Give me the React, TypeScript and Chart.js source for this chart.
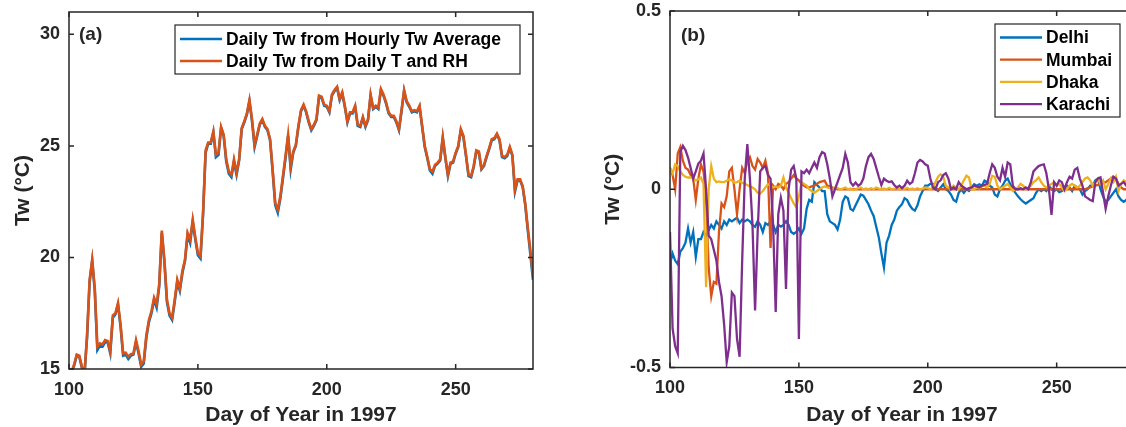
import React, { useEffect, useRef } from "react";
import { Chart, registerables } from "chart.js";

Chart.register(...registerables);

// ---------- data ----------
const START_DAY = 100;
const X_TICKS = [100, 150, 200, 250];
const LEFT_Y_TICKS = [15, 20, 25, 30];
const RIGHT_Y_TICKS = [-0.5, 0, 0.5];

const LEFT_LABELS = ["Daily Tw from Hourly Tw Average", "Daily Tw from Daily T and RH"];
const RIGHT_LABELS = ["Delhi", "Mumbai", "Dhaka", "Karachi"];

// Daily Tw from hourly Tw average (days 100..280)
const TW_HOURLY = [
  14.75, 14.85, 15.15, 15.6, 15.55, 15.05, 14.75, 16.4, 18.9, 19.85,
  18.5, 15.85, 16.05, 16.0, 16.2, 16.2, 15.7, 17.3, 17.45, 17.9,
  16.9, 15.6, 15.65, 15.45, 15.6, 15.65, 16.2, 15.7, 15.1, 15.25,
  16.4, 17.1, 17.5, 18.1, 17.75, 18.7, 21.1, 19.8, 18.0, 17.4,
  17.2, 18.0, 18.9, 18.5, 19.3, 19.85, 21.0, 20.65, 21.6, 20.8,
  20.1, 19.95, 21.9, 24.7, 25.1, 25.1, 25.6, 24.5, 24.6, 25.8,
  25.45, 24.3, 23.75, 23.6, 24.3, 23.7, 24.35, 25.75, 26.05, 26.4,
  27.0, 26.1, 24.95, 25.45, 25.95, 26.15, 25.85, 25.7, 25.25, 23.85,
  22.35, 22.0, 22.65, 23.55, 24.45, 25.45, 23.95, 24.7, 25.0, 25.85,
  26.55, 26.8, 26.5, 26.05, 25.7, 25.9, 26.15, 27.2, 27.15, 26.8,
  26.75, 26.5, 27.25, 27.45, 27.6, 27.05, 27.35, 26.75, 26.05, 26.45,
  26.45, 26.75, 25.9, 25.85, 26.25, 25.85, 26.15, 27.25, 26.65, 26.75,
  26.65, 27.5, 27.25, 26.9, 26.45, 26.3, 26.3, 26.05, 25.7, 26.55,
  27.45, 26.95, 26.75, 26.5, 26.55, 26.5, 26.75, 25.85, 24.95, 24.45,
  23.9, 23.75, 24.1, 24.2, 24.35, 25.35, 24.45, 23.65, 24.2, 24.25,
  24.65, 24.95, 25.7, 25.4, 24.55, 23.65, 23.6, 24.05, 24.75, 24.7,
  23.95, 24.1, 24.5, 24.85, 25.25, 25.3, 25.5, 25.25, 24.5, 24.45,
  24.55, 24.9, 24.55, 22.95, 23.45, 23.45, 23.15, 22.35, 21.2, 20.1,
  19.0,
];

// Daily Tw from daily T and RH (days 100..280)
const TW_DAILY = [
  14.8, 14.9, 15.2, 15.65, 15.6, 15.1, 14.8, 16.5, 19.0, 19.9,
  18.6, 16.0, 16.15, 16.1, 16.3, 16.26, 15.8, 17.4, 17.5, 17.95,
  17.0, 15.7, 15.73, 15.55, 15.67, 15.7, 16.3, 15.8, 15.2, 15.35,
  16.5, 17.2, 17.6, 18.2, 17.9, 18.8, 21.2, 19.9, 18.1, 17.5,
  17.3, 18.1, 19.0, 18.6, 19.4, 19.9, 21.1, 20.8, 21.7, 20.9,
  20.2, 20.05, 22.0, 24.8, 25.15, 25.15, 25.65, 24.6, 24.7, 25.85,
  25.5, 24.4, 23.85, 23.7, 24.4, 23.8, 24.4, 25.8, 26.1, 26.45,
  27.05, 26.2, 25.05, 25.5, 26.0, 26.2, 25.9, 25.75, 25.3, 23.95,
  22.45, 22.15, 22.75, 23.65, 24.55, 25.5, 24.1, 24.75, 25.05, 25.9,
  26.6, 26.85, 26.55, 26.1, 25.75, 25.95, 26.2, 27.25, 27.2, 26.85,
  26.8, 26.55, 27.3, 27.5, 27.65, 27.1, 27.4, 26.8, 26.1, 26.5,
  26.5, 26.8, 25.95, 25.9, 26.3, 25.9, 26.2, 27.3, 26.7, 26.8,
  26.7, 27.55, 27.3, 26.95, 26.5, 26.35, 26.35, 26.1, 25.75, 26.6,
  27.5, 27.0, 26.8, 26.55, 26.6, 26.55, 26.8, 25.9, 25.0, 24.5,
  23.95, 23.85, 24.15, 24.25, 24.4, 25.4, 24.5, 23.7, 24.25, 24.3,
  24.7, 25.0, 25.75, 25.45, 24.6, 23.7, 23.65, 24.1, 24.8, 24.75,
  24.0, 24.15, 24.55, 24.9, 25.3, 25.35, 25.55, 25.3, 24.55, 24.5,
  24.6, 24.95, 24.6, 23.05, 23.5, 23.5, 23.2, 22.4, 21.3, 20.3,
  19.2,
];

// Differences (days 100..280)
const DELHI = [
  -0.21, -0.18, -0.2, -0.21, -0.175, -0.165, -0.15, -0.11, -0.15, -0.12,
  -0.19, -0.14, -0.14, -0.12, -0.13, -0.115, -0.1, -0.11, -0.09, -0.1,
  -0.11, -0.09, -0.1, -0.085, -0.09, -0.085, -0.08, -0.095, -0.085, -0.09,
  -0.085, -0.09, -0.1, -0.105, -0.09, -0.1, -0.12, -0.095, -0.1, -0.09,
  -0.1, -0.12, -0.1, -0.105, -0.1, -0.09, -0.1, -0.12, -0.125, -0.12,
  -0.11, -0.125, -0.11, -0.055, -0.03, -0.035, 0.02, 0.012, 0.005, -0.005,
  -0.005, -0.07, -0.09, -0.095, -0.1, -0.113, -0.085, -0.035, -0.02, -0.025,
  -0.055, -0.06, -0.045, -0.03, -0.015, -0.018, -0.03, -0.042, -0.06, -0.075,
  -0.105, -0.135, -0.18, -0.22, -0.15, -0.13, -0.1, -0.085, -0.06, -0.05,
  -0.042, -0.025, -0.03, -0.045, -0.055, -0.06, -0.045, -0.02, -0.005, 0.01,
  0.01, 0.015, 0.015, 0.0, -0.005, 0.005, 0.014, 0.0, -0.005, -0.015,
  -0.03, -0.035, -0.01, 0.0, -0.01, 0.0, -0.005, 0.005, 0.014, 0.01,
  0.014, 0.01, 0.024, 0.02, 0.01, 0.005, -0.015, -0.02, 0.0, 0.01,
  0.024, 0.03, 0.014, 0.0, -0.01, -0.02, -0.028, -0.035, -0.04, -0.035,
  -0.03, -0.025, -0.01, 0.0, -0.005, 0.0, -0.005, 0.01, 0.0, -0.005,
  0.0, -0.008, -0.005, 0.005, 0.01, 0.005, -0.005, 0.01, 0.005, 0.0,
  -0.015, -0.005, 0.0, 0.01, 0.01, 0.025, 0.03, 0.0, -0.02, -0.035,
  -0.03, -0.02, -0.01, 0.0, -0.02, -0.03, -0.035, -0.03, -0.02, -0.01,
  0.0,
];

const MUMBAI = [
  0.06, 0.04, 0.0, 0.1, 0.118, 0.08, 0.06, 0.055, 0.04, 0.03,
  -0.03, 0.03, 0.07, 0.05, -0.02, -0.22, -0.3, -0.26, -0.265, -0.12,
  -0.04, -0.05, -0.02, 0.05, 0.06, 0.0, -0.07, 0.0, 0.06, 0.045,
  0.08, 0.09, 0.065, 0.055, 0.085, 0.075, 0.06, 0.08, 0.045, -0.165,
  0.01, 0.0, 0.015, 0.01, 0.0, 0.015, 0.02, 0.03, 0.04, 0.03,
  0.025, 0.015, 0.01, 0.005, 0.005, 0.008, 0.01, 0.015, 0.02, 0.022,
  0.024, 0.01, 0.008, 0.005, 0.002, 0, 0, 0, 0, 0,
  0, 0, 0, 0, 0, 0, 0, 0, 0, 0,
  0, 0, 0, 0, 0, 0, 0, 0, 0, 0,
  0, 0, 0, 0, 0, 0, 0, 0, 0, 0,
  0, 0, 0, 0, 0, 0, 0, 0, 0, 0,
  0, 0, 0, 0, 0, 0, 0, 0, 0, 0,
  0, 0, 0, 0, 0, 0, 0, 0, 0, 0,
  0, 0, 0, 0, 0, 0, 0, 0, 0, 0,
  0, 0, 0, 0, 0, 0, 0, 0, 0, 0,
  0, 0, 0, 0, 0, 0, 0, 0, 0, 0,
  0, 0, 0.003, 0.005, 0.008, 0.01, 0.012, 0.015, 0.018, 0.02,
  0.025, 0.03, 0.035, 0.03, 0.015, 0.005, 0.0, 0.0, 0.0, 0.0,
  0.0,
];

const DHAKA = [
  0.06, 0.045, 0.07, 0.065, 0.05, 0.04, 0.035, 0.033, 0.033, 0.03,
  0.025, 0.028, 0.033, 0.015, -0.275, 0.0, 0.065, 0.03, 0.02, 0.022,
  0.02, 0.02, 0.024, 0.028, 0.025, 0.018, 0.02, 0.024, 0.018, 0.015,
  0.012, 0.008, 0.005, 0.0, -0.01, -0.012, -0.005, 0.005, 0.014, 0.01,
  0.005, 0.008, 0.005, 0.01, 0.033, 0.005, -0.01, -0.025, -0.04, -0.05,
  -0.02, 0.02, 0.015, 0.01, 0.0, -0.005, -0.01, -0.005, 0.0, 0.005,
  0.008, 0.005, 0.003, 0.0, 0.005, 0.003, 0.0, 0.002, 0.005, 0.0,
  0.002, -0.002, 0.0, 0.003, 0.005, 0.0, 0.002, 0.0, 0.003, 0.0,
  0.005, 0.002, 0.0, 0.002, 0.0, 0.004, 0.0, 0.002, 0.003, 0.0,
  0.002, 0.0, 0.004, 0.0, 0.002, 0.0, 0.003, 0.0, 0.002, 0.005,
  0.003, 0.0, 0.005, 0.02, 0.035, 0.042, 0.035, 0.01, 0.005, 0.0,
  0.01, 0.005, 0.0, 0.01, 0.025, 0.038, 0.033, 0.0, 0.0, 0.005,
  0.002, 0.008, 0.01, 0.005, 0.015, 0.038, 0.035, 0.01, 0.0, 0.005,
  0.01, 0.015, 0.005, -0.005, 0.0, 0.005, 0.015, 0.01, 0.0, 0.005,
  0.01, 0.02, 0.025, 0.033, 0.02, 0.01, 0.005, 0.01, 0.015, 0.02,
  0.01, 0.015, 0.005, -0.005, 0.0, 0.01, 0.015, 0.01, 0.005, 0.01,
  0.02, 0.03, 0.033, 0.025, 0.01, 0.02, 0.03, 0.015, 0.025, 0.0,
  0.015, 0.03, 0.02, 0.035, -0.005, 0.015, 0.025, 0.02, 0.01, 0.015,
  0.01,
];

const KARACHI = [
  -0.12, -0.39, -0.44, -0.46, 0.105, 0.122, 0.11, 0.089, 0.06, 0.03,
  0.05, 0.072, 0.08, 0.1, 0.0, -0.13, -0.14, -0.17, -0.2, -0.26,
  -0.3, -0.38, -0.485, -0.44, -0.29, -0.3, -0.42, -0.47, -0.2, 0.03,
  0.127, 0.03, -0.1, -0.34, -0.12, 0.05, 0.06, 0.065, 0.04, 0.03,
  -0.1, -0.344, -0.07, -0.024, -0.06, -0.28, 0.0, 0.055, 0.065, 0.03,
  -0.42, 0.05, 0.045, 0.055, 0.045, 0.06, 0.075, 0.06, 0.09, 0.104,
  0.1, 0.07, 0.03, -0.02, 0.0, 0.02, 0.04, 0.06, 0.099, 0.075,
  0.02, 0.01, 0.019, 0.01, 0.015, 0.03, 0.065, 0.09, 0.099, 0.085,
  0.06, 0.035, 0.012, 0.03, 0.024, 0.02, 0.022, 0.012, 0.005, 0.01,
  0.003, 0.01, 0.024, 0.015, 0.02, 0.045, 0.075, 0.082, 0.078, 0.07,
  0.066, 0.03, 0.005, 0.0, 0.02, 0.025, 0.04, 0.045, 0.03, 0.0,
  0.005, 0.0, 0.02, 0.01, 0.005, 0.0, 0.003, 0.005, 0.01, 0.008,
  0.005, 0.01, 0.012, 0.015, 0.045, 0.07, 0.06, 0.035, 0.025, 0.06,
  0.035, 0.075, 0.07, 0.01, 0.0, 0.0, 0.003, 0.0, 0.005, 0.0,
  0.02, 0.05, 0.058, 0.065, 0.068, 0.07, 0.045, 0.0, -0.072, 0.02,
  0.01, 0.025, 0.02, 0.0, 0.02, 0.035, 0.03, 0.055, 0.06, 0.03,
  0.01, -0.02, -0.025, -0.03, -0.033, 0.02, 0.03, 0.033, -0.01, -0.055,
  -0.02, 0.01, 0.035, 0.03, 0.01, 0.015, 0.02, 0.01, 0.005, 0.01,
  0.0,
];

// ---------- styles ----------
const AXIS_COLOR = "#262626";
const BLUE = "#0072BD";
const ORANGE = "#D95319";
const YELLOW = "#EDB120";
const PURPLE = "#7E2F8E";
const FONT = '"Liberation Sans", Arial, Helvetica, sans-serif';

const toPoints = (vals: number[]) => vals.map((v, i) => ({ x: START_DAY + i, y: v }));

const decoPlugin = {
  id: "deco",
  afterDraw(chart: any, _args: any, opts: any) {
    const { ctx, chartArea: a, scales } = chart;
    ctx.save();
    // frame
    ctx.strokeStyle = AXIS_COLOR;
    ctx.lineWidth = 1.5;
    ctx.strokeRect(a.left, a.top, a.right - a.left, a.bottom - a.top);
    // inner ticks
    const TL = 5;
    ctx.beginPath();
    scales.x.ticks.forEach((t: any) => {
      const px = scales.x.getPixelForValue(t.value);
      ctx.moveTo(px, a.bottom);
      ctx.lineTo(px, a.bottom - TL);
      ctx.moveTo(px, a.top);
      ctx.lineTo(px, a.top + TL);
    });
    scales.y.ticks.forEach((t: any) => {
      const py = scales.y.getPixelForValue(t.value);
      ctx.moveTo(a.left, py);
      ctx.lineTo(a.left + TL, py);
      ctx.moveTo(a.right, py);
      ctx.lineTo(a.right - TL, py);
    });
    ctx.stroke();
    // panel label
    ctx.fillStyle = AXIS_COLOR;
    ctx.font = `bold 19px ${FONT}`;
    ctx.textBaseline = "middle";
    ctx.textAlign = "left";
    ctx.fillText(opts.label, a.left + opts.labelDx, opts.labelY);
    // legend
    const L = opts.legend;
    ctx.fillStyle = "#ffffff";
    ctx.fillRect(L.x, L.y, L.w, L.h);
    ctx.strokeStyle = AXIS_COLOR;
    ctx.lineWidth = 1.2;
    ctx.strokeRect(L.x, L.y, L.w, L.h);
    ctx.font = `bold ${L.fontSize}px ${FONT}`;
    chart.data.datasets.forEach((ds: any, i: number) => {
      const cy = L.firstRow + i * L.rowH;
      ctx.strokeStyle = ds.borderColor;
      ctx.lineWidth = ds.borderWidth;
      ctx.beginPath();
      ctx.moveTo(L.lineX0, cy);
      ctx.lineTo(L.lineX1, cy);
      ctx.stroke();
      ctx.fillStyle = "#000000";
      ctx.fillText(ds.label, L.textX, cy + 1);
    });
    ctx.restore();
  },
};

function titleOpts(text: string, padding: any) {
  return {
    display: true,
    text,
    color: AXIS_COLOR,
    font: { family: FONT, size: 21, weight: "bold", lineHeight: 1 },
    padding,
  };
}

const tickFont = { family: FONT, size: 18, weight: "bold" };

function xScale(height: number) {
  return {
    type: "linear",
    min: 100,
    max: 280,
    grid: { display: false, drawTicks: false },
    border: { display: false },
    title: titleOpts("Day of Year in 1997", { top: 0, bottom: 1.5 }),
    ticks: { color: AXIS_COLOR, font: tickFont, padding: 10, maxRotation: 0, autoSkip: false },
    afterBuildTicks: (s: any) => { s.ticks = X_TICKS.map((v) => ({ value: v })); },
    afterFit: (s: any) => {
      s.height = height;
      s.paddingLeft = 0;
      s.paddingRight = 0;
      s.paddingTop = 0;
      s.paddingBottom = 0;
    },
  };
}

function yScale(min: number, max: number, ticks: number[], width: number, titlePad: number) {
  return {
    type: "linear",
    min,
    max,
    grid: { display: false, drawTicks: false },
    border: { display: false },
    title: titleOpts("Tw (°C)", { top: titlePad, bottom: 0 }),
    ticks: { color: AXIS_COLOR, font: tickFont, padding: 9 },
    afterBuildTicks: (s: any) => { s.ticks = ticks.map((v) => ({ value: v })); },
    afterFit: (s: any) => {
      s.width = width;
      s.paddingTop = 0;
      s.paddingBottom = 0;
      s.paddingLeft = 0;
      s.paddingRight = 0;
    },
  };
}

function makeLeft(canvas: HTMLCanvasElement) {
  return new Chart(canvas, {
    type: "line",
    data: {
      datasets: [
        { label: LEFT_LABELS[0], data: toPoints(TW_HOURLY), borderColor: BLUE, backgroundColor: BLUE, borderWidth: 2.6, pointRadius: 0, order: 2 },
        { label: LEFT_LABELS[1], data: toPoints(TW_DAILY), borderColor: ORANGE, backgroundColor: ORANGE, borderWidth: 2.6, pointRadius: 0, order: 1 },
      ],
    },
    options: {
      responsive: false,
      animation: false,
      devicePixelRatio: 1,
      layout: { padding: { left: 0, top: 12, right: 27, bottom: 0 } },
      plugins: {
        legend: { display: false },
        tooltip: { enabled: false },
        deco: {
          label: "(a)",
          labelDx: 10,
          labelY: 35,
          legend: { x: 175, y: 25, w: 345, h: 49, firstRow: 39, rowH: 22, lineX0: 180, lineX1: 222, textX: 226, fontSize: 17.5 },
        },
      } as any,
      scales: {
        x: xScale(58),
        y: yScale(15, 31, LEFT_Y_TICKS, 69, 12.5),
      },
    } as any,
    plugins: [decoPlugin],
  });
}

function makeRight(canvas: HTMLCanvasElement) {
  const colors = [BLUE, ORANGE, YELLOW, PURPLE];
  const series = [DELHI, MUMBAI, DHAKA, KARACHI];
  return new Chart(canvas, {
    type: "line",
    data: {
      datasets: series.map((vals, i) => ({
        label: RIGHT_LABELS[i],
        data: toPoints(vals),
        borderColor: colors[i],
        backgroundColor: colors[i],
        borderWidth: 2.3,
        pointRadius: 0,
        order: series.length - i,
      })),
    },
    options: {
      responsive: false,
      animation: false,
      devicePixelRatio: 1,
      layout: { padding: { left: 0, top: 11, right: 26, bottom: 0 } },
      plugins: {
        legend: { display: false },
        tooltip: { enabled: false },
        deco: {
          label: "(b)",
          labelDx: 11,
          labelY: 35.5,
          legend: { x: 435, y: 24, w: 125, h: 93, firstRow: 37.5, rowH: 22.2, lineX0: 440, lineX1: 482, textX: 486, fontSize: 17.5 },
        },
      } as any,
      scales: {
        x: xScale(59.5),
        y: yScale(-0.5, 0.5, RIGHT_Y_TICKS, 110, 42.5),
      },
    } as any,
    plugins: [decoPlugin],
  });
}

export default function App() {
  const leftRef = useRef<HTMLCanvasElement | null>(null);
  const rightRef = useRef<HTMLCanvasElement | null>(null);

  useEffect(() => {
    if (!leftRef.current || !rightRef.current) return;
    const c1 = makeLeft(leftRef.current);
    const c2 = makeRight(rightRef.current);
    return () => {
      c1.destroy();
      c2.destroy();
    };
  }, []);

  return (
    <div style={{ position: "fixed", left: 0, top: 0, width: 1126, height: 427, overflow: "hidden", background: "#ffffff" }}>
      <div style={{ position: "absolute", left: 0, top: 0, width: 560, height: 427 }}>
        <canvas ref={leftRef} width={560} height={427} style={{ display: "block" }} />
      </div>
      <div style={{ position: "absolute", left: 560, top: 0, width: 600, height: 427 }}>
        <canvas ref={rightRef} width={600} height={427} style={{ display: "block" }} />
      </div>
    </div>
  );
}
